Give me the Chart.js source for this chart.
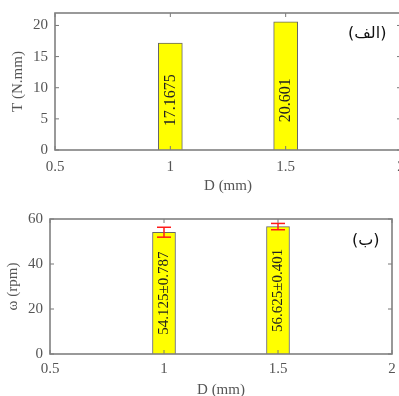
<!DOCTYPE html>
<html>
<head>
<meta charset="utf-8">
<script src="https://cdn.jsdelivr.net/npm/chart.js@4.4.0/dist/chart.umd.min.js"></script>
<style>
  html, body { margin: 0; padding: 0; background: #fff; overflow: hidden; }
  #wrap { position: relative; width: 399px; height: 396px; overflow: hidden; }
  .box { position: absolute; left: 0; }
  .tag { position: absolute; font-family: "DejaVu Sans", "Noto Sans", sans-serif; font-size: 16px; color: #111; }
</style>
</head>
<body>
<div id="wrap">
  <div class="box" style="top:0;width:405px;height:198px"><canvas id="torqueChart" width="405" height="198"></canvas></div>
  <div class="box" style="top:198px;width:399px;height:204px"><canvas id="speedChart" width="399" height="204"></canvas></div>
  <div class="tag" dir="rtl" style="left:348px;top:23px">(الف)</div>
  <div class="tag" dir="rtl" style="left:352px;top:230px">(ب)</div>
</div>
<script>
// data
const diam = [1, 1.5];
const torque = [17.1675, 20.601];
const speed = [54.125, 56.625];
const speedStd = [0.787, 0.401];
const speedErr = [2.2, 1.4];   // red bars as drawn
const xTicks = [0.5, 1, 1.5, 2];
const torqueTicks = [0, 5, 10, 15, 20];
const speedTicks = [0, 20, 40, 60];

const gray = '#555';
const serif = '"Liberation Serif", "DejaVu Serif", serif';

// matlab-ish box, inner ticks, value labels, error bars
const matlabBox = {
  id: 'matlabBox',
  afterDatasetsDraw(chart, args, opts) {
    const ctx = chart.ctx, a = chart.chartArea;
    const x = chart.scales.x, y = chart.scales.y;
    const line = (x1, y1, x2, y2) => { ctx.beginPath(); ctx.moveTo(x1, y1); ctx.lineTo(x2, y2); ctx.stroke(); };
    ctx.save();

    // labels inside the bars
    ctx.fillStyle = '#222';
    ctx.font = opts.labelSize + 'px ' + serif;
    ctx.textAlign = 'center';
    ctx.textBaseline = 'middle';
    opts.labels.forEach((txt, i) => {
      const px = x.getPixelForValue(diam[i]);
      const py = y.getPixelForValue(opts.labelAt != null ? opts.labelAt : opts.values[i] / 2);
      ctx.save();
      ctx.translate(px, py);
      ctx.rotate(-Math.PI / 2);
      ctx.fillText(txt, 0, 0);
      ctx.restore();
    });

    // error bars
    if (opts.err) {
      ctx.strokeStyle = '#ff1a1a';
      ctx.lineWidth = 1.5;
      opts.err.forEach((e, i) => {
        const px = x.getPixelForValue(diam[i]);
        const top = y.getPixelForValue(opts.values[i] + e);
        const bot = y.getPixelForValue(opts.values[i] - e);
        line(px, top, px, bot);
        line(px - 7, top, px + 7, top);
        line(px - 7, bot, px + 7, bot);
      });
    }

    // inner ticks on all four sides
    ctx.strokeStyle = '#777';
    ctx.lineWidth = 1;
    x.ticks.forEach(t => {
      const px = x.getPixelForValue(t.value);
      line(px, a.bottom, px, a.bottom - 4);
      line(px, a.top, px, a.top + 4);
    });
    y.ticks.forEach(t => {
      const py = y.getPixelForValue(t.value);
      line(a.left, py, a.left + 4, py);
      line(a.right, py, a.right - 4, py);
    });

    ctx.strokeStyle = '#808080';
    ctx.lineWidth = 1.6;
    ctx.strokeRect(a.left, a.top, a.right - a.left, a.bottom - a.top);
    ctx.restore();
  }
};

makeChart = (id, values, opt) => {
  return new Chart(document.getElementById(id), {
    type: 'bar',
    data: {
      datasets: [{
        data: diam.map((d, i) => ({ x: d, y: values[i] })),
        backgroundColor: '#ffff00',
        borderColor: '#666',
        borderWidth: 1,
        barThickness: opt.barW
      }]
    },
    options: {
      responsive: false,
      devicePixelRatio: 1,
      animation: false,
      layout: { padding: { top: opt.top, right: opt.right, left: 0, bottom: 0 } },
      plugins: {
        legend: { display: false },
        tooltip: { enabled: false },
        matlabBox: { labels: opt.labels, values: values, err: opt.err, labelSize: opt.labelSize, labelAt: opt.labelAt }
      },
      scales: {
        x: {
          type: 'linear', min: 0.5, max: 2, offset: false,
          grid: { display: false, drawTicks: false },
          border: { display: false },
          afterBuildTicks: s => { s.ticks = xTicks.map(v => ({ value: v })); },
          afterFit: s => { s.height = opt.xH; s.paddingLeft = 0; s.paddingRight = 0; },
          ticks: { color: gray, font: { family: serif, size: 15 }, padding: opt.xTickPad, maxRotation: 0, autoSkip: false,
                   callback: v => String(v) },
          title: { display: true, text: 'D (mm)', color: gray, font: { family: serif, size: 15 }, padding: { top: 0, bottom: opt.xTitlePad } }
        },
        y: {
          min: 0, max: opt.yMax,
          grid: { display: false, drawTicks: false },
          border: { display: false },
          afterBuildTicks: s => { s.ticks = opt.yTicks.map(v => ({ value: v })); },
          afterFit: s => { s.width = opt.yW; s.paddingTop = 0; s.paddingBottom = 0; },
          ticks: { color: gray, font: { family: serif, size: 15 }, padding: 7 },
          title: { display: true, text: opt.yTitle, color: gray, font: { family: serif, size: 15 }, padding: { top: opt.yTitlePad, bottom: 0 } }
        }
      }
    },
    plugins: [matlabBox]
  });
}

makeChart('torqueChart', torque, {
  top: 13, right: 4, xH: 48, yW: 55, yMax: 22, yTicks: torqueTicks, barW: 24,
  yTitle: 'T (N.mm)', yTitlePad: 9, xTitlePad: 3, xTickPad: 8,
  labels: torque.map(v => String(v)), labelSize: 16, labelAt: 8
});

makeChart('speedChart', speed, {
  top: 21, right: 7, xH: 48, yW: 50, yMax: 60, yTicks: speedTicks, barW: 23,
  yTitle: 'ω (rpm)', yTitlePad: 4, xTitlePad: 3, xTickPad: 6, err: speedErr,
  labels: speed.map((v, i) => v.toFixed(3) + '±' + speedStd[i].toFixed(3)), labelSize: 15
});
</script>
</body>
</html>
